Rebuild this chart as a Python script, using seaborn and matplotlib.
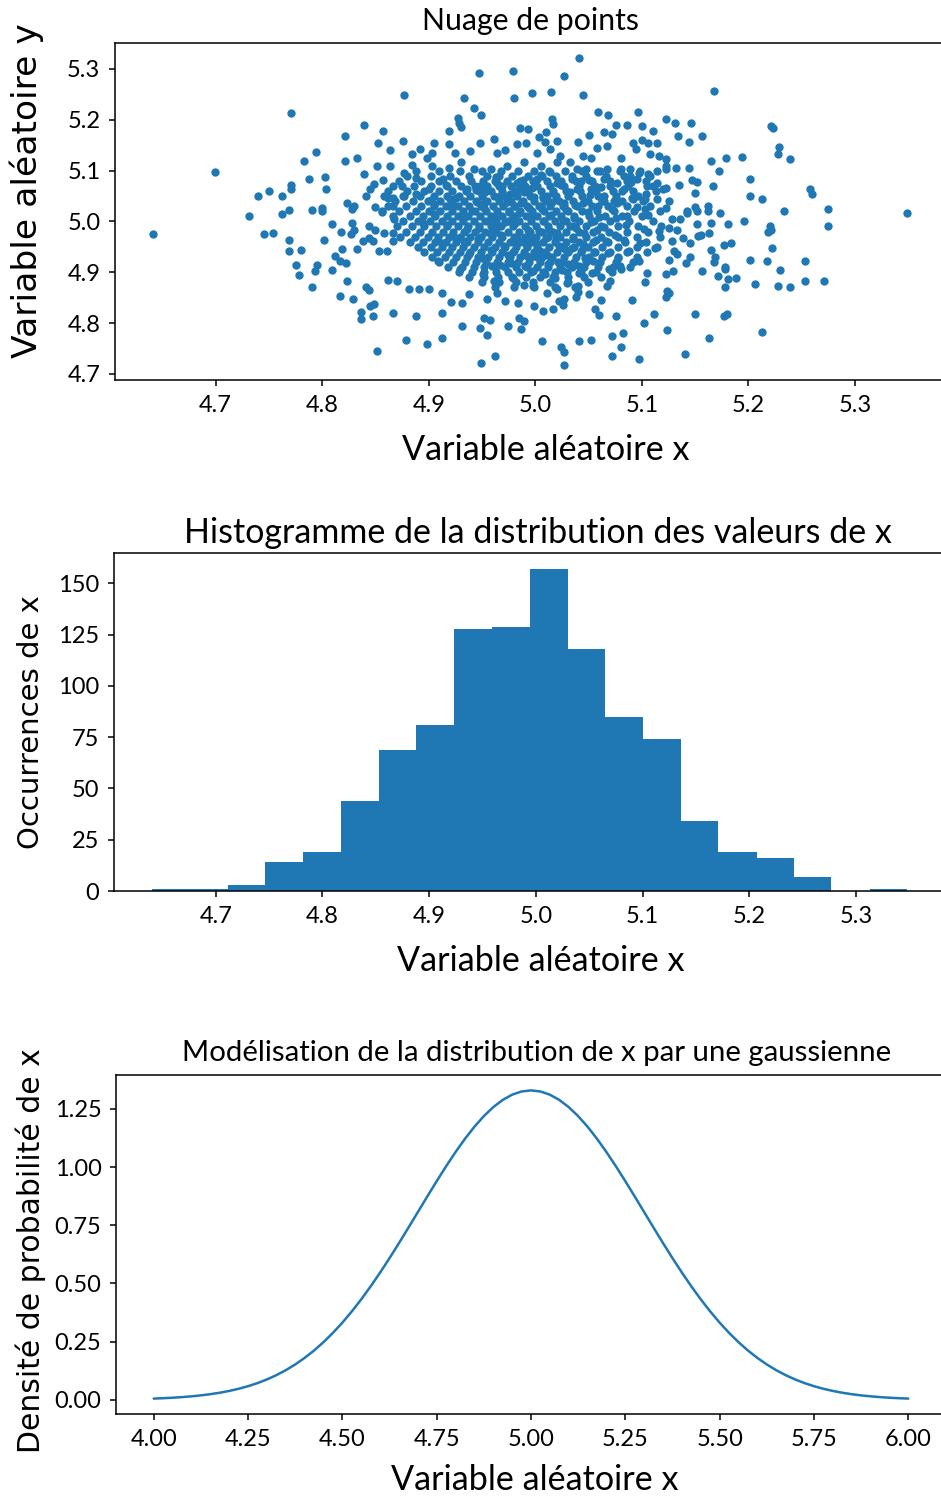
import matplotlib
matplotlib.use('Agg')
import matplotlib.pyplot as plt
import seaborn as sns

# ---------------------------------------------------------------
# nuage de points : positions (points isoles)
# ---------------------------------------------------------------
outer_pts = [
    (4.771, 5.214), (4.699, 5.097), (4.839, 5.190), (4.821, 5.168), (4.857, 5.178), (4.852, 5.154),
    (4.864, 5.141), (4.794, 5.137), (4.783, 5.119), (4.821, 5.119), (4.833, 5.124), (4.851, 5.109),
    (4.864, 5.109), (4.839, 5.094), (4.857, 5.082), (4.788, 5.084), (4.803, 5.088), (4.804, 5.063),
    (4.771, 5.072), (4.771, 5.063), (4.750, 5.059), (4.740, 5.050), (4.762, 5.050), (4.769, 5.023),
    (4.790, 5.023), (4.800, 5.026), (4.800, 5.020), (4.823, 5.037), (4.830, 5.031), (4.845, 5.063),
    (4.849, 5.073), (4.841, 5.050), (4.850, 5.029), (4.856, 5.020), (4.862, 5.047), (4.866, 5.031),
    (4.731, 5.010), (4.762, 5.014),
    (4.641, 4.975), (4.745, 4.975), (4.754, 4.978), (4.828, 5.024), (4.809, 4.994), (4.818, 4.979),
    (4.828, 4.997), (4.830, 4.984), (4.827, 4.975), (4.769, 4.963), (4.769, 4.941), (4.780, 4.944),
    (4.802, 4.963), (4.775, 4.914), (4.778, 4.895), (4.795, 4.914), (4.793, 4.903), (4.809, 4.905),
    (4.812, 4.932), (4.819, 4.945), (4.817, 4.922), (4.822, 4.919), (4.790, 4.870), (4.823, 4.882),
    (4.817, 4.854), (4.829, 4.848), (4.841, 4.870), (4.844, 4.865), (4.836, 4.821), (4.836, 4.808),
    (4.845, 4.833), (4.849, 4.838), (4.848, 4.814), (4.851, 4.745), (4.866, 4.820), (4.833, 4.945),
    (4.838, 4.961), (4.844, 4.968), (4.848, 4.961), (4.853, 4.942), (4.861, 4.942), (4.844, 4.991),
    (4.850, 4.983), (4.858, 4.978), (4.866, 4.978), (4.866, 4.961), (4.862, 4.884), (4.856, 5.018),
    (4.867, 5.004),
    (5.168, 5.256), (5.221, 5.188), (5.223, 5.184), (5.229, 5.147), (5.228, 5.133), (5.239, 5.122),
    (5.194, 5.127), (5.179, 5.124), (5.165, 5.119), (5.172, 5.100), (5.156, 5.168), (5.146, 5.194),
    (5.131, 5.194), (5.123, 5.201), (5.134, 5.168), (5.144, 5.156), (5.132, 5.106), (5.144, 5.106),
    (5.123, 5.103), (5.123, 5.122), (5.147, 5.082), (5.152, 5.078), (5.135, 5.072), (5.123, 5.065),
    (5.150, 5.056), (5.167, 5.069), (5.201, 5.084), (5.201, 5.050), (5.213, 5.044), (5.258, 5.063),
    (5.260, 5.054), (5.162, 5.031), (5.150, 5.029), (5.152, 5.021), (5.142, 5.021), (5.123, 5.027),
    (5.173, 5.016), (5.233, 5.021), (5.275, 5.024), (5.349, 5.016),
    (5.275, 4.991), (5.220, 4.991), (5.221, 4.984), (5.218, 4.979), (5.222, 4.948), (5.217, 4.923),
    (5.201, 4.925), (5.196, 5.000), (5.181, 4.994), (5.165, 4.997), (5.152, 4.994), (5.163, 4.978),
    (5.155, 4.973), (5.184, 4.957), (5.177, 4.953), (5.165, 4.944), (5.169, 4.929), (5.168, 4.920),
    (5.178, 4.911), (5.178, 4.906), (5.156, 4.903), (5.171, 4.892), (5.181, 4.886), (5.188, 4.888),
    (5.178, 4.870), (5.206, 4.876), (5.228, 4.873), (5.239, 4.870), (5.230, 4.905), (5.253, 4.922),
    (5.253, 4.882), (5.271, 4.882), (5.150, 4.817), (5.177, 4.814), (5.180, 4.817), (5.213, 4.782),
    (5.163, 4.771), (5.140, 4.739), (5.124, 4.786), (5.124, 4.863), (5.123, 4.852), (5.128, 5.004),
    (5.136, 5.004), (5.142, 5.017), (5.162, 5.020), (5.125, 4.988), (5.133, 4.984), (5.139, 4.968),
    (5.145, 4.957), (5.128, 4.961), (5.130, 4.942), (5.125, 4.925), (5.133, 4.935), (5.141, 4.918),
    (5.145, 4.929), (5.129, 4.903), (5.123, 4.896), (5.153, 4.971),
    (4.879, 4.767), (4.898, 4.758), (4.912, 4.771), (4.888, 4.814), (4.912, 4.820), (4.931, 4.795),
    (4.948, 4.790), (4.955, 4.776), (4.952, 4.809), (4.957, 4.805), (4.962, 4.736), (4.949, 4.721),
    (4.974, 4.795), (4.985, 4.809), (4.989, 4.803), (4.987, 4.788), (5.006, 4.764), (5.024, 4.753),
    (5.027, 4.743), (5.027, 4.718), (5.041, 4.764), (5.052, 4.767), (5.072, 4.736), (5.080, 4.753),
    (5.072, 4.774), (5.082, 4.780), (5.097, 4.729), (5.076, 4.814), (5.102, 4.801), (5.111, 4.817),
    (5.091, 4.846), (5.056, 4.827), (5.060, 4.816), (5.062, 4.846), (5.050, 4.857), (5.038, 4.852),
    (5.040, 4.872), (5.041, 4.898), (5.026, 4.835), (5.022, 4.844), (5.017, 4.827), (5.007, 4.824),
    (4.999, 4.833), (4.984, 4.839), (4.972, 4.843), (4.964, 4.860), (4.955, 4.847), (4.938, 4.857),
    (4.931, 4.839), (4.921, 4.842), (4.912, 4.860), (4.900, 4.867), (4.891, 4.867), (4.881, 4.867),
    (4.870, 4.883), (5.080, 4.906), (5.103, 4.880), (5.105, 4.899), (5.125, 4.860), (5.067, 4.873),
    (4.998, 4.873), (5.011, 4.860), (5.020, 4.867), (5.027, 4.847),
    (5.041, 5.321), (4.947, 5.293), (4.979, 5.296), (5.027, 5.286), (4.877, 5.249), (4.933, 5.243),
    (4.980, 5.243), (4.997, 5.252), (5.015, 5.255), (5.045, 5.249), (4.942, 5.224), (4.949, 5.209),
    (4.927, 5.204), (4.928, 5.194), (4.930, 5.186), (4.919, 5.178), (4.876, 5.159), (4.986, 5.184),
    (4.993, 5.181), (5.016, 5.201), (5.017, 5.191), (5.010, 5.175), (5.003, 5.166), (5.009, 5.156),
    (5.020, 5.159), (4.961, 5.162), (5.040, 5.156), (5.050, 5.171), (5.059, 5.215), (5.068, 5.209),
    (5.076, 5.190), (5.086, 5.190), (5.096, 5.215), (5.100, 5.188), (5.110, 5.178), (5.064, 5.175),
    (5.072, 5.173), (5.058, 5.145), (5.067, 5.148), (5.045, 5.129), (5.052, 5.125), (5.080, 5.125),
    (5.092, 5.155), (5.100, 5.160), (5.106, 5.155), (5.114, 5.155), (5.094, 5.142), (5.108, 5.132),
    (5.116, 5.129), (5.089, 5.103), (5.097, 5.096), (5.106, 5.093), (5.114, 5.099), (5.123, 5.109),
    (5.095, 5.083), (5.105, 5.070), (5.114, 5.076), (5.120, 5.063), (5.103, 5.044), (5.114, 5.044),
    (5.103, 5.024), (5.080, 5.103), (5.083, 5.090), (5.077, 5.076), (5.064, 5.083), (5.067, 5.103),
    (5.039, 5.103), (5.048, 5.103), (5.058, 5.099),
    (4.884, 5.132), (4.892, 5.142), (4.898, 5.125), (4.905, 5.155), (4.903, 5.135), (4.919, 5.152),
    (4.925, 5.135), (4.939, 5.139), (4.948, 5.155), (4.877, 5.096), (4.884, 5.112), (4.903, 5.109),
    (4.919, 5.106), (4.913, 5.083), (4.888, 5.086), (4.875, 5.070), (4.900, 5.063), (4.866, 5.047),
    (4.877, 5.050), (4.888, 5.054), (4.905, 5.034), (4.920, 5.044),
    (4.964, 5.135), (4.972, 5.141), (4.983, 5.152), (4.991, 5.155), (5.002, 5.135), (5.014, 5.142),
    (5.023, 5.129), (4.973, 5.109), (4.989, 5.116), (5.005, 5.109), (5.020, 5.116), (5.033, 5.116),
    (4.958, 5.103), (4.942, 5.103), (4.930, 5.116), (4.964, 5.076), (4.983, 5.076), (5.002, 5.083),
    (5.020, 5.076), (5.034, 5.083), (4.948, 5.070), (4.936, 5.063), (4.967, 5.050), (4.989, 5.057),
    (5.011, 5.050), (5.033, 5.057), (5.052, 5.063), (5.064, 5.050), (5.083, 5.063), (4.952, 5.037),
    (4.980, 5.031), (5.005, 5.031), (5.027, 5.031), (5.045, 5.037), (5.077, 5.037), (5.092, 5.044),
]

# coeur du nuage, trop dense pour lire chaque point : estime ligne par ligne
core_rows_y = [5.100, 5.090, 5.080, 5.070, 5.060, 5.050, 5.040, 5.030, 5.020, 5.010, 5.000, 4.990,
               4.980, 4.970, 4.960, 4.950, 4.940, 4.930, 4.920, 4.910, 4.900, 4.890, 4.880, 4.870]
core_rows_x = [
    [4.888, 4.910, 4.929, 4.950, 4.968, 4.984, 4.999, 5.013, 5.028, 5.044, 5.061, 5.079, 5.098],
    [4.880, 4.902, 4.920, 4.938, 4.955, 4.966, 4.978, 4.993, 5.006, 5.019, 5.034, 5.048, 5.066, 5.089, 5.108],
    [4.872, 4.893, 4.910, 4.926, 4.940, 4.951, 4.962, 4.973, 4.986, 4.998, 5.011, 5.024, 5.038, 5.053, 5.070,
     5.086, 5.104],
    [4.866, 4.886, 4.902, 4.917, 4.930, 4.943, 4.955, 4.966, 4.977, 4.990, 5.002, 5.014, 5.027, 5.041, 5.056,
     5.070, 5.087, 5.110],
    [4.862, 4.880, 4.896, 4.910, 4.922, 4.935, 4.947, 4.958, 4.969, 4.981, 4.993, 5.005, 5.017, 5.029, 5.042,
     5.057, 5.073, 5.092, 5.113],
    [4.858, 4.876, 4.892, 4.905, 4.917, 4.928, 4.939, 4.950, 4.961, 4.972, 4.983, 4.995, 5.007, 5.019, 5.031,
     5.044, 5.059, 5.076, 5.096],
    [4.868, 4.885, 4.899, 4.911, 4.922, 4.933, 4.944, 4.955, 4.966, 4.977, 4.988, 4.999, 5.010, 5.022, 5.035,
     5.049, 5.064, 5.081, 5.101, 5.125],
    [4.862, 4.879, 4.893, 4.905, 4.916, 4.927, 4.938, 4.949, 4.960, 4.970, 4.981, 4.992, 5.003, 5.014, 5.026,
     5.039, 5.053, 5.068, 5.086, 5.108],
    [4.872, 4.888, 4.900, 4.911, 4.922, 4.932, 4.943, 4.954, 4.964, 4.975, 4.986, 4.997, 5.008, 5.019, 5.031,
     5.044, 5.058, 5.074, 5.093, 5.117],
    [4.866, 4.882, 4.895, 4.906, 4.917, 4.927, 4.937, 4.948, 4.958, 4.969, 4.980, 4.991, 5.002, 5.013, 5.024,
     5.036, 5.050, 5.065, 5.081, 5.100],
    [4.876, 4.890, 4.901, 4.912, 4.922, 4.932, 4.942, 4.953, 4.963, 4.974, 4.985, 4.996, 5.007, 5.018, 5.029,
     5.041, 5.055, 5.070, 5.088, 5.110],
    [4.870, 4.884, 4.896, 4.907, 4.917, 4.927, 4.937, 4.947, 4.958, 4.968, 4.979, 4.990, 5.001, 5.012, 5.023,
     5.035, 5.048, 5.062, 5.078, 5.096, 5.118],
    [4.879, 4.892, 4.903, 4.913, 4.923, 4.933, 4.943, 4.953, 4.963, 4.974, 4.985, 4.995, 5.006, 5.017, 5.029,
     5.041, 5.054, 5.069, 5.086, 5.106],
    [4.873, 4.887, 4.899, 4.909, 4.919, 4.929, 4.939, 4.949, 4.959, 4.969, 4.980, 4.990, 5.001, 5.012, 5.023,
     5.035, 5.048, 5.062, 5.078, 5.095, 5.117],
    [4.882, 4.895, 4.906, 4.916, 4.926, 4.936, 4.946, 4.956, 4.966, 4.976, 4.986, 4.996, 5.007, 5.018, 5.029,
     5.041, 5.054, 5.068, 5.084, 5.104],
    [4.890, 4.902, 4.912, 4.922, 4.932, 4.942, 4.952, 4.962, 4.972, 4.982, 4.992, 5.002, 5.013, 5.024, 5.036,
     5.049, 5.063, 5.078, 5.095, 5.114],
    [4.896, 4.908, 4.919, 4.929, 4.939, 4.949, 4.959, 4.969, 4.979, 4.989, 4.999, 5.009, 5.020, 5.031, 5.043,
     5.056, 5.070, 5.086, 5.105],
    [4.903, 4.915, 4.926, 4.936, 4.946, 4.956, 4.966, 4.976, 4.986, 4.996, 5.006, 5.016, 5.027, 5.038, 5.050,
     5.063, 5.078, 5.095],
    [4.910, 4.923, 4.934, 4.944, 4.954, 4.964, 4.974, 4.984, 4.994, 5.004, 5.014, 5.025, 5.036, 5.048, 5.061,
     5.076, 5.092],
    [4.918, 4.931, 4.942, 4.952, 4.962, 4.972, 4.982, 4.992, 5.002, 5.012, 5.023, 5.034, 5.046, 5.059, 5.073,
     5.089],
    [4.928, 4.941, 4.952, 4.963, 4.974, 4.985, 4.996, 5.007, 5.018, 5.030, 5.043, 5.057, 5.072],
    [4.938, 4.952, 4.965, 4.978, 4.991, 5.004, 5.017, 5.031, 5.046, 5.062],
    [4.950, 4.966, 4.982, 4.998, 5.014, 5.031, 5.049],
    [4.962, 4.980, 4.999, 5.018, 5.037],
]

# points supplementaires du coeur (positions estimees, irregulieres)
core_extra = [
    (4.905, 5.014), (4.917, 4.993), (4.926, 5.047), (4.933, 4.962), (4.941, 5.021), (4.947, 4.987),
    (4.953, 5.058), (4.958, 4.944), (4.962, 5.006), (4.968, 4.973), (4.973, 5.039), (4.977, 4.918),
    (4.981, 4.996), (4.986, 5.064), (4.991, 4.955), (4.994, 5.027), (4.998, 4.902), (5.003, 4.981),
    (5.007, 5.046), (5.011, 4.934), (5.015, 5.012), (5.019, 4.967), (5.024, 5.071), (5.028, 4.946),
    (5.033, 4.991), (5.037, 5.033), (5.041, 4.912), (5.046, 4.977), (5.051, 5.052), (5.055, 4.939),
    (5.060, 5.008), (5.066, 4.961), (5.072, 5.024), (5.078, 4.927), (5.085, 4.993), (5.091, 5.046),
    (5.098, 4.958), (5.106, 5.013),
    (4.912, 4.958), (4.921, 5.031), (4.929, 4.906), (4.936, 4.985), (4.944, 5.062), (4.950, 4.927),
    (4.956, 5.001), (4.961, 4.883), (4.966, 5.044), (4.971, 4.952), (4.975, 5.018), (4.979, 4.889),
    (4.983, 4.970), (4.988, 5.082), (4.992, 4.931), (4.996, 5.009), (5.001, 4.957), (5.005, 5.091),
    (5.009, 4.896), (5.013, 4.984), (5.017, 5.055), (5.021, 4.921), (5.026, 5.003), (5.030, 4.879),
    (5.035, 4.966), (5.039, 5.064), (5.044, 4.943), (5.049, 5.019), (5.053, 4.898), (5.058, 4.984),
    (5.063, 5.041), (5.069, 4.906), (5.075, 4.974), (5.081, 5.059), (5.088, 4.941), (5.095, 5.029),
    (5.102, 4.985), (5.112, 4.947),
    (4.895, 4.996), (4.902, 5.043), (4.909, 4.922), (4.916, 5.072), (4.923, 4.971), (4.931, 5.009),
    (4.938, 4.936), (4.945, 5.038), (4.951, 4.897), (4.957, 4.978), (4.963, 5.087), (4.967, 4.915),
    (4.972, 4.998), (4.976, 5.053), (4.980, 4.941), (4.985, 5.016), (4.989, 4.874), (4.993, 4.984),
    (4.997, 5.066), (5.002, 4.929), (5.006, 5.024), (5.010, 4.968), (5.014, 5.098), (5.018, 4.889),
    (5.022, 4.951), (5.027, 5.037), (5.031, 4.917), (5.036, 5.007), (5.040, 4.862), (5.045, 4.955),
    (5.050, 5.081), (5.054, 4.922), (5.059, 5.031), (5.064, 4.989), (5.070, 4.882), (5.076, 5.006),
    (5.083, 4.963), (5.090, 5.077), (5.097, 4.922), (5.104, 5.054), (5.116, 4.981),
    (4.946, 4.965), (4.952, 5.027), (4.959, 4.912), (4.964, 4.989), (4.969, 5.069), (4.974, 4.934),
    (4.978, 5.004), (4.982, 4.961), (4.987, 5.037), (4.990, 4.913), (4.995, 4.972), (4.999, 5.048),
    (5.004, 4.941), (5.008, 5.001), (5.012, 4.917), (5.016, 5.039), (5.020, 4.978), (5.025, 4.904),
    (5.029, 5.022), (5.034, 4.948), (5.038, 4.988), (5.043, 5.079), (5.047, 4.928), (5.052, 4.998),
    (5.057, 4.963), (5.062, 5.067), (5.068, 4.937), (5.074, 5.041), (5.079, 4.912), (5.086, 5.011),
]

# ---------------------------------------------------------------
# histogramme : bords des classes et effectifs
# ---------------------------------------------------------------
hist_edges = [4.640, 4.675, 4.711, 4.746, 4.782, 4.817, 4.853, 4.888, 4.923, 4.959, 4.994,
              5.030, 5.065, 5.100, 5.136, 5.171, 5.207, 5.242, 5.277, 5.313, 5.348]
hist_counts = [1, 1, 3, 14, 19, 44, 69, 81, 128, 129, 157, 118, 85, 74, 34, 19, 16, 7, 0, 1]

# ---------------------------------------------------------------
# courbe gaussienne : valeurs lues tous les 0.025
# ---------------------------------------------------------------
gauss_x = [4.000, 4.025, 4.050, 4.075, 4.100, 4.125, 4.150, 4.175, 4.200, 4.225, 4.250, 4.275,
           4.300, 4.325, 4.350, 4.375, 4.400, 4.425, 4.450, 4.475, 4.500, 4.525, 4.550, 4.575,
           4.600, 4.625, 4.650, 4.675, 4.700, 4.725, 4.750, 4.775, 4.800, 4.825, 4.850, 4.875,
           4.900, 4.925, 4.950, 4.975, 5.000, 5.025, 5.050, 5.075, 5.100, 5.125, 5.150, 5.175,
           5.200, 5.225, 5.250, 5.275, 5.300, 5.325, 5.350, 5.375, 5.400, 5.425, 5.450, 5.475,
           5.500, 5.525, 5.550, 5.575, 5.600, 5.625, 5.650, 5.675, 5.700, 5.725, 5.750, 5.775,
           5.800, 5.825, 5.850, 5.875, 5.900, 5.925, 5.950, 5.975, 6.000]
gauss_y = [0.0051, 0.0068, 0.0088, 0.0115, 0.0148, 0.0189, 0.0240, 0.0303, 0.0380, 0.0473,
           0.0584, 0.0717, 0.0874, 0.1058, 0.1272, 0.1518, 0.1800, 0.2118, 0.2477, 0.2876,
           0.3316, 0.3797, 0.4317, 0.4875, 0.5467, 0.6088, 0.6733, 0.7395, 0.8066, 0.8736,
           0.9398, 1.0038, 1.0648, 1.1218, 1.1736, 1.2192, 1.2580, 1.2889, 1.3115, 1.3252,
           1.3298,
           1.3252, 1.3115, 1.2889, 1.2580, 1.2192, 1.1736, 1.1218, 1.0648, 1.0038, 0.9398,
           0.8736, 0.8066, 0.7395, 0.6733, 0.6088, 0.5467, 0.4875, 0.4317, 0.3797, 0.3316,
           0.2876, 0.2477, 0.2118, 0.1800, 0.1518, 0.1272, 0.1058, 0.0874, 0.0717, 0.0584,
           0.0473, 0.0380, 0.0303, 0.0240, 0.0189, 0.0148, 0.0115, 0.0088, 0.0068, 0.0051]
gauss_yticks = [0.00, 0.25, 0.50, 0.75, 1.00, 1.25]

scatter_x = [p[0] for p in outer_pts] + [p[0] for p in core_extra]
scatter_y = [p[1] for p in outer_pts] + [p[1] for p in core_extra]
for yy, row in zip(core_rows_y, core_rows_x):
    scatter_x += row
    scatter_y += [yy] * len(row)

blue = '#1f77b4'

sns.set_theme(style='ticks', rc={'axes.edgecolor': 'black', 'axes.linewidth': 1.1,
                                 'xtick.color': 'black', 'ytick.color': 'black',
                                 'text.color': 'black', 'axes.labelcolor': 'black',
                                 'xtick.major.size': 4.5, 'ytick.major.size': 4.5,
                                 'xtick.major.width': 1.1, 'ytick.major.width': 1.1})
plt.rcParams['font.family'] = ['Lato', 'DejaVu Sans']

fig = plt.figure(figsize=(9.41, 14.99), dpi=100)
W, H = 941.0, 1499.0

def box(left, top, right, bottom):
    return [left / W, 1 - bottom / H, (right - left) / W, (bottom - top) / H]

ax1 = fig.add_axes(box(115, 43, 945, 380))
ax2 = fig.add_axes(box(114, 553, 945, 891))
ax3 = fig.add_axes(box(116, 1075, 946, 1414))

# nuage de points
sns.scatterplot(x=scatter_x, y=scatter_y, ax=ax1, s=36, color=blue, linewidth=0)
ax1.set_title('Nuage de points', fontsize=21.8, pad=9)
ax1.set_xlabel('Variable aléatoire x', fontsize=24.6, labelpad=13.5)
ax1.xaxis.label.set_x(0.519)
ax1.set_ylabel('Variable aléatoire y', fontsize=24.8, family='DejaVu Sans')
ax1.yaxis.set_label_coords(-0.086, 0.563)

# histogramme
sns.histplot(x=hist_edges[:-1], weights=hist_counts, bins=hist_edges, ax=ax2,
             color=blue, alpha=1, linewidth=0)
ax2.set_title('Histogramme de la distribution des valeurs de x', fontsize=24.5, pad=7,
              x=0.51)
ax2.set_xlabel('Variable aléatoire x', fontsize=24.6, labelpad=13.3)
ax2.xaxis.label.set_x(0.514)
ax2.set_ylabel('Occurrences de x', fontsize=21, family='DejaVu Sans')
ax2.yaxis.set_label_coords(-0.083, 0.5)

# gaussienne
sns.lineplot(x=gauss_x, y=gauss_y, ax=ax3, color=blue, linewidth=1.8)
ax3.set_yticks(gauss_yticks)
ax3.set_title('Modélisation de la distribution de x par une gaussienne', fontsize=21.2, pad=10,
              x=0.507)
ax3.set_xlabel('Variable aléatoire x', fontsize=24.6, labelpad=10.5)
ax3.xaxis.label.set_x(0.505)
ax3.set_ylabel('Densité de probabilité de x', fontsize=21.5, family='DejaVu Sans')
ax3.yaxis.set_label_coords(-0.084, 0.482)

for ax in (ax1, ax2, ax3):
    ax.tick_params(labelsize=17, pad=6)

fig.savefig('out.png', dpi=100)
